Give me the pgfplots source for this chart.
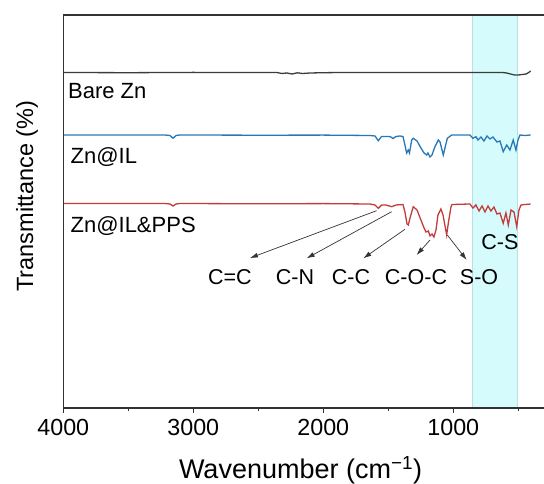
\documentclass[border=0pt]{standalone}
\usepackage{pgfplots}
\pgfplotsset{compat=1.18}
\usepackage{fontspec}
\setmainfont{Liberation Sans}
\usetikzlibrary{arrows.meta}
\definecolor{axgray}{RGB}{50,50,50}
\definecolor{trBlack}{RGB}{60,60,60}
\definecolor{trBlue}{RGB}{40,120,181}
\definecolor{trRed}{RGB}{195,60,60}
\definecolor{bandFill}{RGB}{214,251,253}
\definecolor{bandEdge}{RGB}{180,226,229}
\begin{document}
\begin{tikzpicture}
\begin{axis}[
  name=ax,
  scale only axis,
  width=487.5pt, height=393pt,
  x dir=reverse,
  xmin=250, xmax=4000, ymin=0, ymax=393,
  xtick={1000,2000,3000,4000},
  minor xtick={500,1500,2500,3500},
  ytick=\empty,
  xtick pos=left,
  tick align=outside,
  major tick length=5pt, minor tick length=3pt,
  every tick/.style={line width=1.2pt, color=axgray},
  axis line style={line width=1.3pt, color=axgray},
  xticklabel style={font=\fontsize{23.3}{28}\selectfont, yshift=-2.5pt, text=black},
  /pgf/number format/assume math mode=true,
  /pgf/number format/1000 sep={},
  clip=false,
  axis on top=true,
]
% highlighted band
\addplot[fill=bandFill, draw=bandEdge, line width=0.8pt] coordinates {(852,0) (852,393) (505,393) (505,0)} -- cycle;

% Bare Zn
\addplot[color=trBlack, line width=1.3pt] coordinates {
(4000,335.5) (3500,335.3) (3000,335.6) (2600,335.4) (2356,335.5) (2320,334.5) (2280,335) (2240,334) (2200,335.2) (2160,334.5) (2100,335) (2000,335.3) (1849,335.5) (1400,335.4) (1000,335.5) (620,335.5) (590,335) (560,334) (530,333) (500,333) (470,333.5) (440,334) (420,335.5) (405,337)
};

% Zn@IL
\addplot[color=trBlue, line width=1.3pt] coordinates {
(4000,273) (3218,273) (3179,272.5) (3156,269.7) (3133,272.5) (3102,273) (2487,272.8) (2000,272.9) (1641,272.5) (1602,272) (1577,267.3) (1551,271.5) (1518,271.5) (1487,271.5) (1464,269.5) (1441,271.5) (1410,272) (1387,271.5) (1372,263) (1359,255) (1346,258) (1337,255) (1320,268) (1308,269.7) (1279,267) (1249,260) (1225,255) (1205,253) (1195,255) (1179,251) (1164,253) (1141,261.3) (1115,268) (1102,266) (1077,253) (1064,260) (1046,269.7) (1012,273) (872,273) (849,269.7) (826,271.3) (810,268) (787,271) (764,267) (741,272) (718,269) (695,271) (664,266) (641,267) (616,256.3) (589,263) (564,258) (539,268) (518,258) (502,268) (487,273) (449,272.5) (405,273)
};

% Zn@IL&PPS
\addplot[color=trRed, line width=1.3pt] coordinates {
(4000,204.5) (3218,204.5) (3179,204) (3156,202) (3133,204) (3102,204.5) (2487,204.2) (2000,204.4) (1641,204) (1602,203) (1577,199.7) (1551,203) (1518,203) (1474,201.3) (1441,203) (1387,203.5) (1372,196) (1356,184) (1346,183) (1333,190) (1308,201.3) (1279,198) (1249,188) (1225,180) (1210,176) (1192,177) (1179,172) (1164,174) (1149,171) (1133,178) (1118,193) (1095,199) (1079,193) (1051,173) (1037,186) (1018,201) (1010,203.5) (872,204) (849,200) (826,203) (802,197) (779,202) (756,196) (733,202) (710,197) (687,201) (664,194) (641,195) (616,184.7) (595,195) (577,183) (556,198) (533,196) (512,181.3) (495,198) (479,203) (449,203.5) (405,204)
};

% series labels
\node[anchor=base west, inner sep=0pt, font=\fontsize{22}{26}\selectfont] at (axis cs:3964,309.7) {Bare Zn};
\node[anchor=base west, inner sep=0pt, font=\fontsize{22}{26}\selectfont] at (axis cs:3945,244.7) {Zn@IL};
\node[anchor=base west, inner sep=0pt, font=\fontsize{22}{26}\selectfont] at (axis cs:3945,175) {Zn@IL\&PPS};

% annotations
\node[anchor=base, inner sep=0pt, font=\fontsize{21.5}{26}\selectfont] at (axis cs:2718,123.7) {C=C};
\node[anchor=base, inner sep=0pt, font=\fontsize{21.5}{26}\selectfont] at (axis cs:2218,123.7) {C-N};
\node[anchor=base, inner sep=0pt, font=\fontsize{21.5}{26}\selectfont] at (axis cs:1787,123.7) {C-C};
\node[anchor=base, inner sep=0pt, font=\fontsize{21.5}{26}\selectfont] at (axis cs:1287,123.7) {C-O-C};
\node[anchor=base, inner sep=0pt, font=\fontsize{21.5}{26}\selectfont] at (axis cs:802,123.7) {S-O};
\node[anchor=base, inner sep=0pt, font=\fontsize{21.5}{26}\selectfont] at (axis cs:641,158) {C-S};

\draw[-{Latex[length=8pt,width=5pt]}, line width=0.7pt, color=black!80] (axis cs:1590,197.3) -- (axis cs:2564,150);
\draw[-{Latex[length=8pt,width=5pt]}, line width=0.7pt, color=black!80] (axis cs:1474,196.3) -- (axis cs:2128,149.7);
\draw[-{Latex[length=8pt,width=5pt]}, line width=0.7pt, color=black!80] (axis cs:1372,178.7) -- (axis cs:1692,149.7);
\draw[-{Latex[length=8pt,width=5pt]}, line width=0.7pt, color=black!80] (axis cs:1179,168) -- (axis cs:1282,153);
\draw[-{Latex[length=8pt,width=5pt]}, line width=0.7pt, color=black!80] (axis cs:1046,173) -- (axis cs:897,148);

% axis labels
\node[anchor=base, inner sep=0pt, font=\fontsize{27}{32}\selectfont] at (axis cs:2175,-71) {Wavenumber (cm\textsuperscript{−1})};
\node[rotate=90, anchor=base, inner sep=0pt, font=\fontsize{23.5}{28}\selectfont] at (axis cs:4233,212) {Transmittance (\%)};
\end{axis}
\pgfresetboundingbox
\path[use as bounding box] (ax.south west) ++(-63.3pt,-76pt) rectangle ++(544pt,484pt);
\end{tikzpicture}
\end{document}
